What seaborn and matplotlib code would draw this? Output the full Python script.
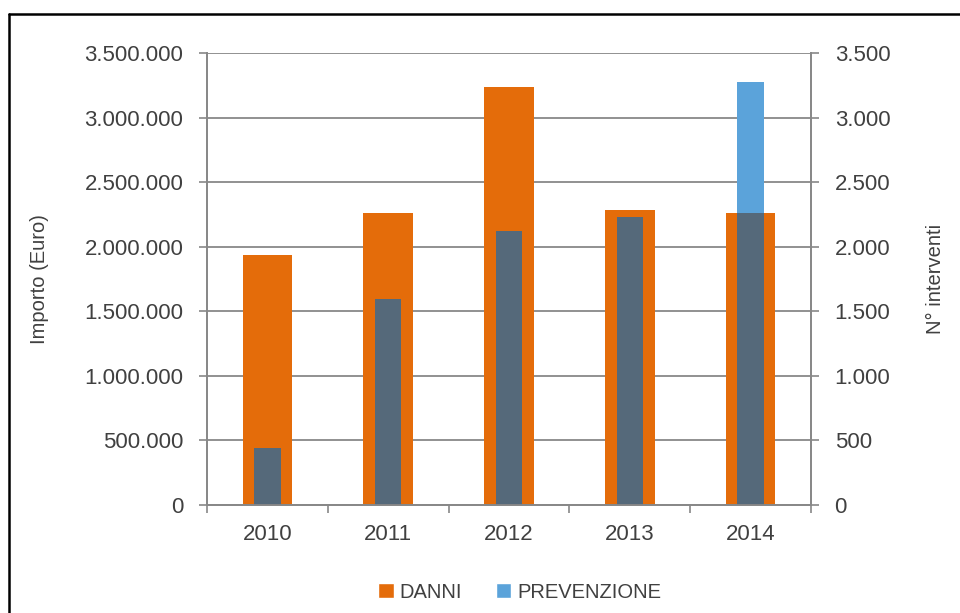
import numpy as np
import pandas as pd
import seaborn as sns
import matplotlib.pyplot as plt
from matplotlib.ticker import FuncFormatter, FixedLocator
from matplotlib.patches import Patch
from matplotlib.lines import Line2D

# dati
anni = ["2010", "2011", "2012", "2013", "2014"]
danni = [1935000, 2262000, 3238000, 2283000, 2262000]      # Importo (Euro), asse sinistro
prevenzione = [439, 1592, 2118, 2231, 3276]                  # N° interventi, asse destro
serie = ["DANNI", "PREVENZIONE"]

ARANCIO = "#E46C0A"
AZZURRO = "#5BA3DA"
SOVRAPPOSTO = "#55697A"
TESTO = "#404040"
GRIGIO = "#888888"

sns.set_theme(style="white")
plt.rcParams['font.family'] = ['Liberation Sans', 'DejaVu Sans']

df = pd.DataFrame({"anno": anni, "danni": danni, "prevenzione": prevenzione})
# la parte di barra azzurra sovrapposta all'arancio (scala destra = euro / 1000)
df["sovrapposto"] = np.minimum(df["prevenzione"], df["danni"] / 1000)


def punti(v, pos):
    return "{:,.0f}".format(v).replace(",", ".")


fig = plt.figure(figsize=(9.6, 6.13), dpi=100)
ax = fig.add_axes([207 / 960, 1 - 505 / 613, (811 - 207) / 960, (505 - 53) / 613])
ax2 = ax.twinx()

sns.barplot(data=df, x="anno", y="danni", color=ARANCIO, width=0.41,
            saturation=1, linewidth=0, ax=ax)
sns.barplot(data=df, x="anno", y="prevenzione", color=AZZURRO, width=0.22,
            saturation=1, linewidth=0, ax=ax2)
sns.barplot(data=df, x="anno", y="sovrapposto", color=SOVRAPPOSTO, width=0.22,
            saturation=1, linewidth=0, ax=ax2)

ax.set_ylim(0, 3500000)
ax.set_yticks(range(0, 3500001, 500000))
ax.yaxis.set_major_formatter(FuncFormatter(punti))
ax2.set_ylim(0, 3500)
ax2.set_yticks(range(0, 3501, 500))
ax2.yaxis.set_major_formatter(FuncFormatter(punti))
ax.set_xlim(-0.5, 4.5)

ax.yaxis.grid(True, color=GRIGIO, lw=1.3)
ax.set_axisbelow(True)

ax.tick_params(axis='y', left=True, direction='out', length=6, width=1.2, color=GRIGIO,
               labelsize=16, labelcolor=TESTO, pad=11)
ax2.tick_params(axis='y', right=True, direction='out', length=6, width=1.2, color=GRIGIO,
                labelsize=16, labelcolor=TESTO, pad=11)
ax.tick_params(axis='x', bottom=True, length=0, labelsize=16, labelcolor=TESTO, pad=14)
ax.xaxis.set_minor_locator(FixedLocator([-0.5, 0.5, 1.5, 2.5, 3.5, 4.5]))
ax.tick_params(axis='x', which='minor', bottom=True, direction='out', length=6,
               width=1.2, color=GRIGIO)

for a in (ax, ax2):
    a.spines['top'].set_visible(False)
    for s in ('left', 'right', 'bottom'):
        a.spines[s].set_color(GRIGIO)
        a.spines[s].set_linewidth(1.3)

ax.set_xlabel("")
ax.set_ylabel("Importo (Euro)", fontsize=14.5, color=TESTO)
ax.yaxis.set_label_coords(-0.262, 0.5)
ax2.set_ylabel("N° interventi", fontsize=14.5, color=TESTO)
ax2.yaxis.set_label_coords(1.19, 0.5)

maniglie = [Patch(facecolor=ARANCIO), Patch(facecolor=AZZURRO)]
fig.legend(maniglie, serie, loc='center', bbox_to_anchor=(520 / 960, 1 - 592 / 613),
           ncol=2, frameon=False, fontsize=14.5, labelcolor=TESTO,
           handlelength=0.75, handleheight=0.75, handletextpad=0.3, columnspacing=1.7)

# cornice nera (solo bordo sinistro e superiore visibili)
fig.add_artist(Line2D([8.5 / 960, 8.5 / 960], [0, 1 - 13.5 / 613], color="black", lw=1.8))
fig.add_artist(Line2D([8.5 / 960, 1], [1 - 13.5 / 613, 1 - 13.5 / 613], color="black", lw=1.8))

fig.savefig("out.png", dpi=100)
